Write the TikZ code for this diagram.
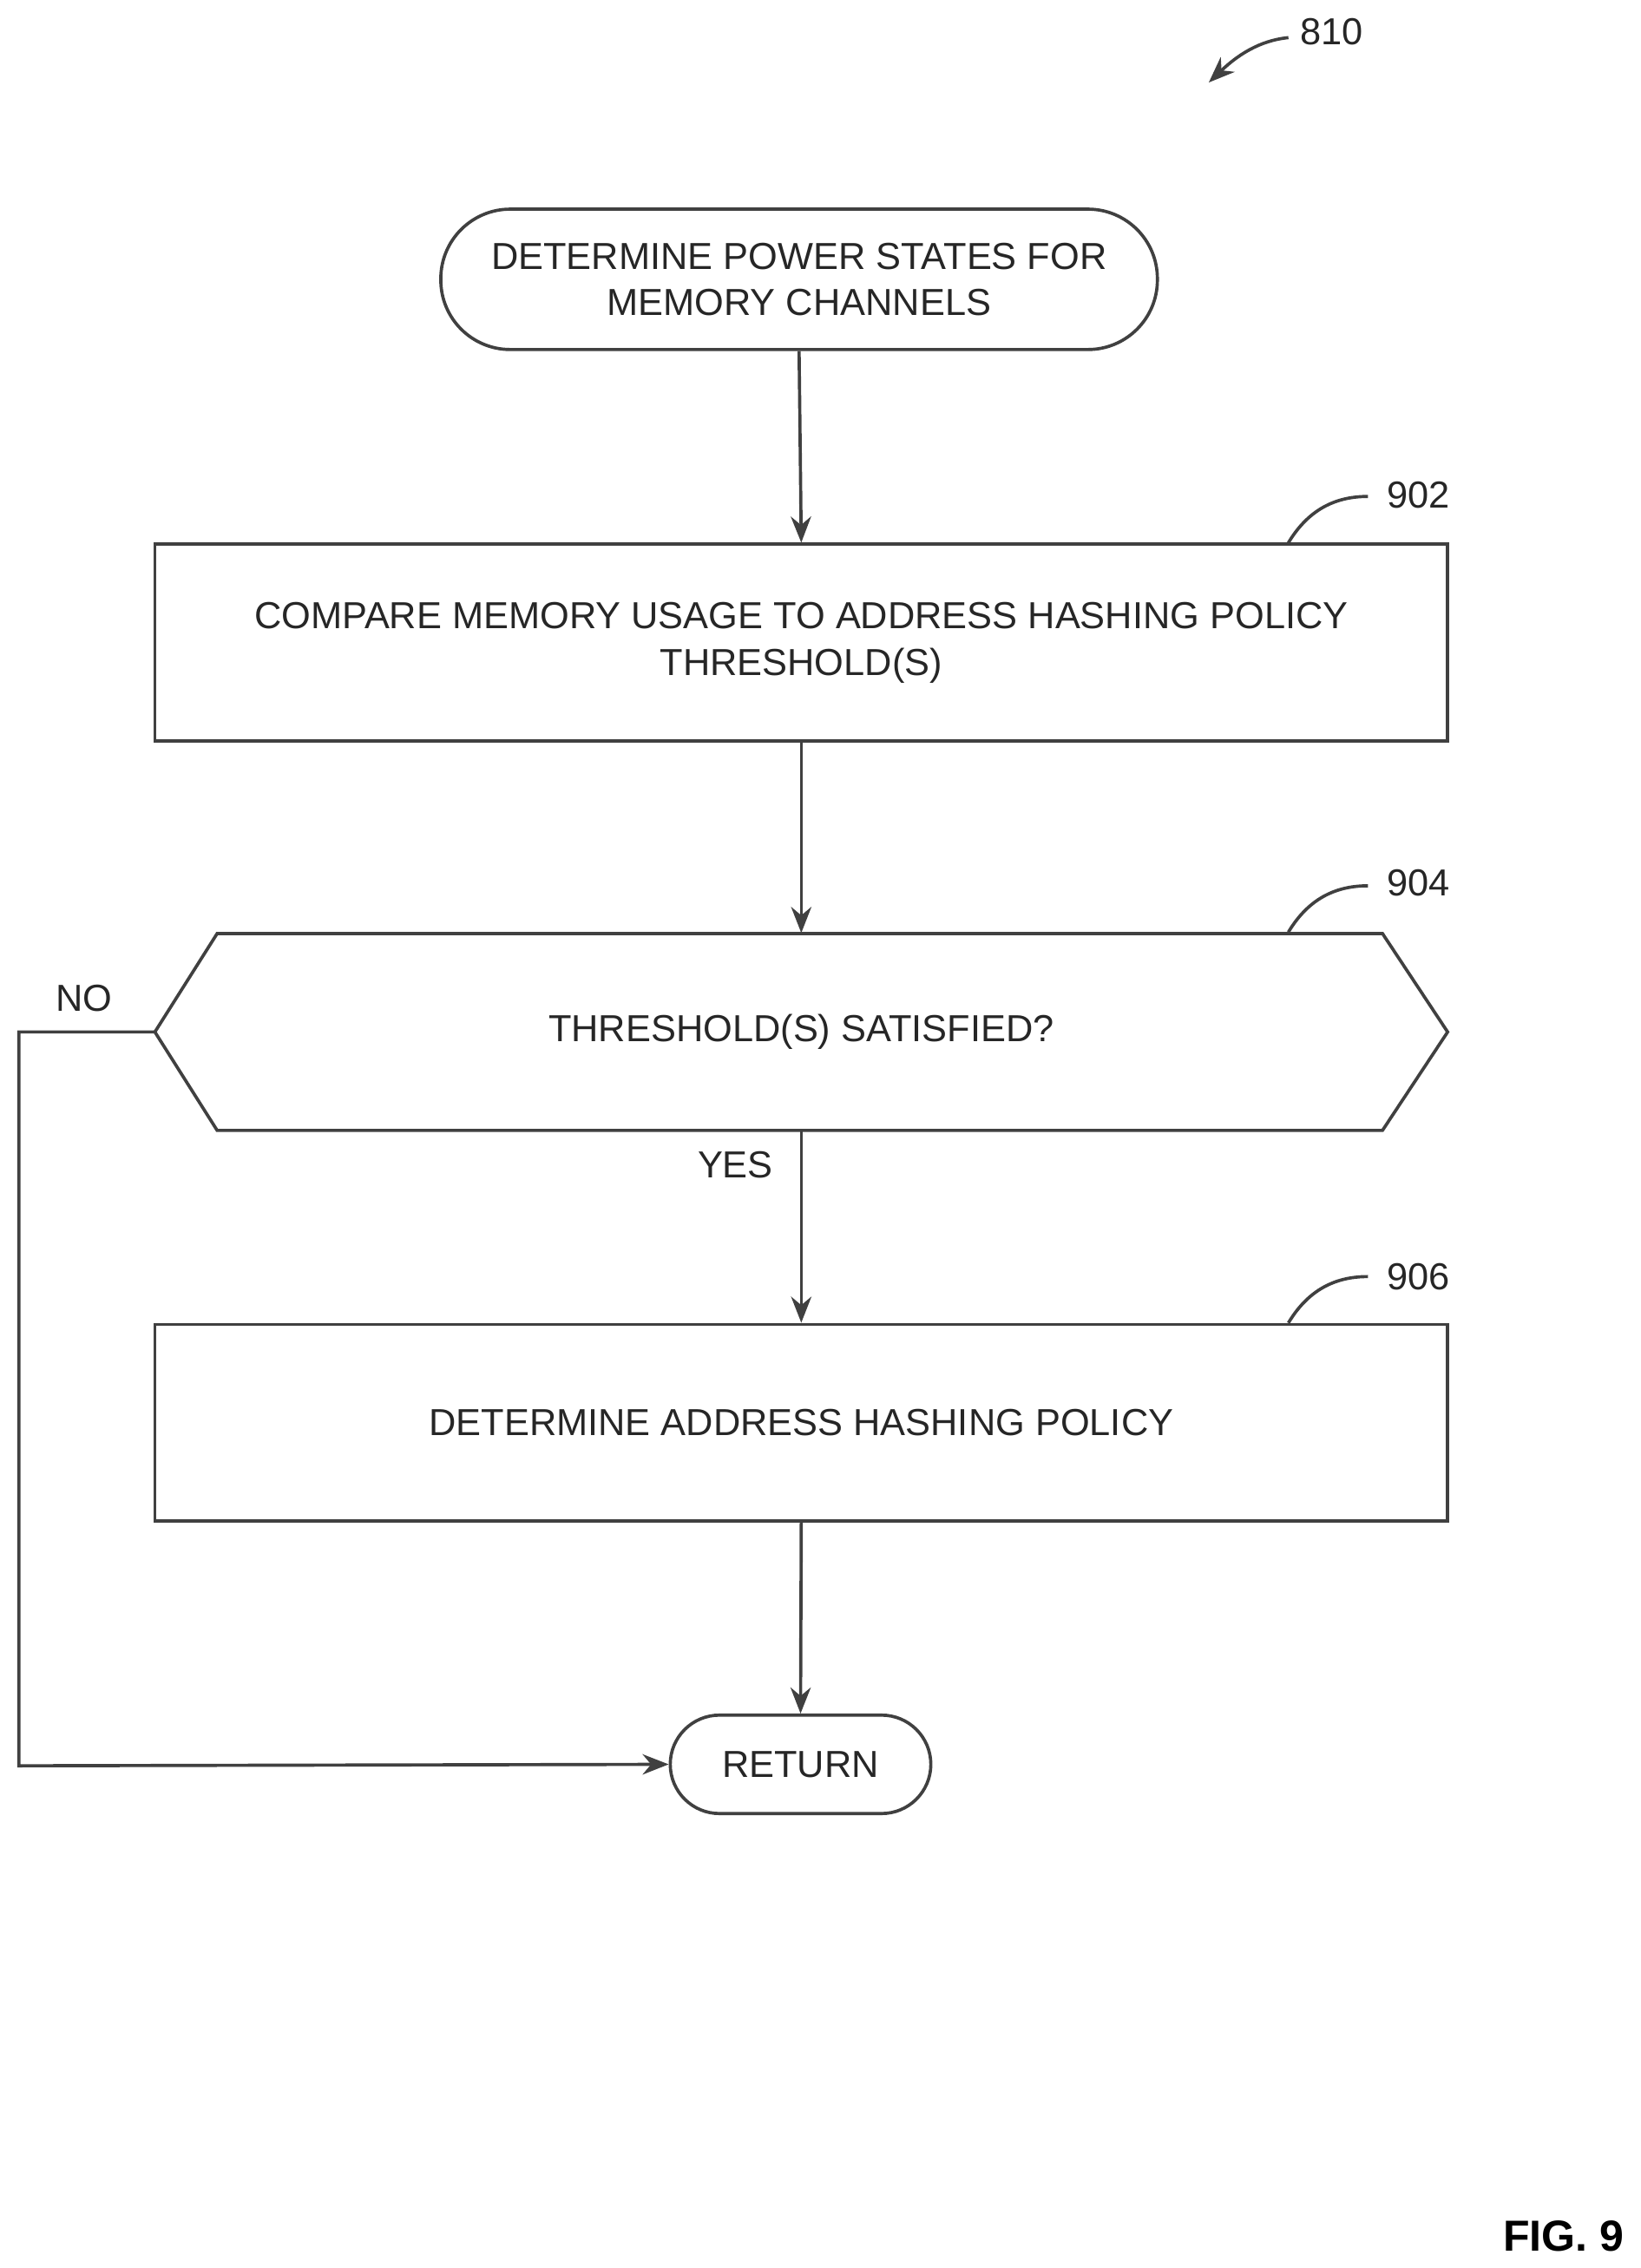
\documentclass[tikz,border=0pt]{standalone}
\usepackage{fontspec}
\setmainfont{Liberation Sans}
\usetikzlibrary{arrows.meta,calc}
\begin{document}
\begin{tikzpicture}[x=0.5pt,y=-0.5pt,
  line/.style={draw=black!75,line width=1.1pt},
  arr/.style={line,-{Stealth[length=9pt,width=7pt]}},
  txt/.style={font=\fontsize{13}{16}\selectfont,text=black!85,align=center},
  box/.style={line,txt,rectangle,minimum width=446.5pt,minimum height=68pt,inner sep=0pt},
  term/.style={line,txt,rounded rectangle,inner sep=0pt},
  lab/.style={font=\fontsize{13}{16}\selectfont,text=black!85}]
\useasboundingbox (0,0) rectangle (1133,1567);
\node[line,txt,rounded corners=24pt,minimum width=247.5pt,minimum height=48.5pt] (s) at (552,193) {DETERMINE POWER STATES FOR\\MEMORY CHANNELS};
\node[box] (b1) at (553.5,444) {COMPARE MEMORY USAGE TO ADDRESS HASHING POLICY\\THRESHOLD(S)};
\node[txt,minimum width=446.5pt,minimum height=68pt,inner sep=0pt] (d) at (553.5,713) {THRESHOLD(S) SATISFIED?};
\draw[line] (107,713) -- (150,645) -- (955,645) -- (1000,713) -- (955,781) -- (150,781) -- cycle;
\node[box] (b2) at (553.5,983) {DETERMINE ADDRESS HASHING POLICY};
\node[line,txt,rounded corners=17pt,minimum width=90pt,minimum height=34pt] (r) at (553,1219) {RETURN};
\draw[arr] (s.south) -- (b1.north);
\draw[arr] (b1.south) -- (d.north);
\draw[arr] (d.south) -- (b2.north);
\draw[arr] (b2.south) -- (r.north);
\coordinate (c1) at (13,713);
\coordinate (c2) at (13,1220);
\draw[arr] (d.west) -- (c1) -- (c2) -- (r.west);
\node[lab] (no) at (58,690) {NO};
\node[lab] (yes) at (508,805) {YES};
\node[lab] (l902) at (980,342) {902};
\node[lab] (l904) at (980,610) {904};
\node[lab] (l906) at (980,882) {906};
\draw[line] (890,375) .. controls (905,350) and (925,343) .. (945,343);
\draw[line] (890,644) .. controls (905,619) and (925,612) .. (945,612);
\draw[line] (890,914) .. controls (905,889) and (925,882) .. (945,882);
\node[lab] (l810) at (920,22) {810};
\draw[arr] (890,26) .. controls (870,28) and (855,38) .. (835,57);
\node[font=\bfseries\fontsize{15}{18}\selectfont] (fig) at (1080,1545) {FIG. 9};
\end{tikzpicture}
\end{document}
